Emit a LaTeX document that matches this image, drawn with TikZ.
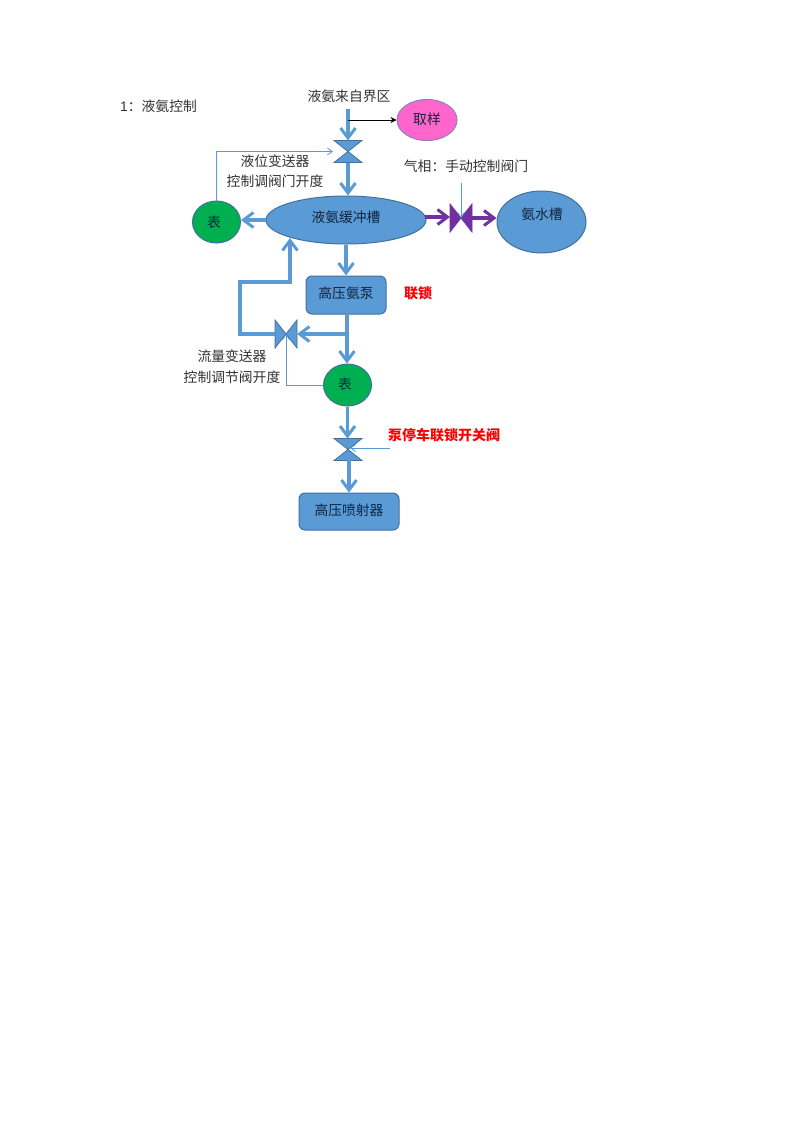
\documentclass[tikz,border=0pt]{standalone}
\usepackage{fontspec}
\setmainfont{Noto Sans CJK SC}
\usetikzlibrary{arrows.meta,shapes.geometric}
\definecolor{pipe}{HTML}{5B9BD5}
\definecolor{edgeblue}{HTML}{41719C}
\definecolor{gauge}{HTML}{00B050}
\definecolor{samplepink}{HTML}{FF66CC}
\definecolor{sampleedge}{HTML}{8C7FC0}
\definecolor{vapour}{HTML}{7030A0}
\definecolor{txt}{HTML}{333333}
\definecolor{nodetxt}{HTML}{10253F}
\tikzset{
  lbl/.style={font=\fontsize{13.8}{16}\selectfont, text=txt, inner sep=0pt},
  redlbl/.style={font=\fontsize{14}{16}\selectfont\bfseries, text=red, inner sep=0pt},
  inside/.style={font=\fontsize{13.8}{16}\selectfont, text=nodetxt, inner sep=0pt},
  vessel/.style={shape=ellipse, draw=edgeblue, fill=pipe, line width=1pt, inner sep=0pt},
  box/.style={rectangle, rounded corners=6pt, draw=edgeblue, fill=pipe, line width=1pt, inner sep=0pt},
  gaugeball/.style={shape=ellipse, draw=edgeblue, fill=gauge, line width=1pt, inner sep=0pt},
  valvespot/.style={rectangle, inner sep=0pt, outer sep=0pt},
  valvebody/.style={draw=edgeblue, fill=pipe, line width=0.8pt, line join=miter},
  pipeflow/.style={draw=pipe, line width=3.2pt, -{Straight Barb[length=10pt,width=15pt,line width=3pt]}},
  vapourflow/.style={draw=vapour, line width=3.2pt, -{Straight Barb[length=10pt,width=15pt,line width=3pt]}},
  signal/.style={draw=pipe, line width=1pt, -{Straight Barb[length=5pt,width=7pt,line width=0.8pt]}},
  sampleflow/.style={draw=black, line width=1pt, -{Stealth[length=6pt,width=6pt]}},
}
\begin{document}
\begin{tikzpicture}[x=1pt,y=-1pt]
\useasboundingbox[fill=white] (0,0) rectangle (793,1122);

% vessels
\node[vessel, draw=sampleedge, fill=samplepink, minimum width=60pt, minimum height=41pt] (sample) at (427,120) {};
\node[inside] (sampletxt) at (427,119) {取样};
\node[vessel, minimum width=160pt, minimum height=48pt] (buffer) at (346,220) {};
\node[inside] (buffertxt) at (346,217) {液氨缓冲槽};
\node[vessel, minimum width=89pt, minimum height=62pt] (water) at (541.5,222) {};
\node[inside] (watertxt) at (542,214) {氨水槽};
\node[gaugeball, minimum width=48pt, minimum height=42pt] (level) at (216.5,222) {};
\node[inside] (leveltxt) at (214,222) {表};
\node[gaugeball, minimum width=48pt, minimum height=42pt] (flow) at (347.5,385) {};
\node[inside] (flowtxt) at (345,384) {表};
\node[box, minimum width=80pt, minimum height=38pt] (pump) at (346,295) {};
\node[inside] (pumptxt) at (346,293) {高压氨泵};
\node[box, minimum width=100pt, minimum height=37pt] (injector) at (349,511.5) {};
\node[inside] (injtxt) at (349,510) {高压喷射器};

% valves
\node[valvespot, minimum width=28pt, minimum height=22pt] (v1) at (348,151.5) {};
\node[valvespot, minimum width=22pt, minimum height=28pt] (vgas) at (461,218) {};
\node[valvespot, minimum width=22pt, minimum height=28pt] (vby) at (286,334) {};
\node[valvespot, minimum width=28pt, minimum height=22pt] (v3) at (348,449.5) {};
\draw[valvebody] (v1.north west) -- (v1.north east) -- (v1.south west) -- (v1.south east) -- cycle;
\draw[valvebody] (v3.north west) -- (v3.north east) -- (v3.south west) -- (v3.south east) -- cycle;
\draw[valvebody] (vby.north west) -- (vby.south east) -- (vby.north east) -- (vby.south west) -- cycle;
\draw[valvebody, draw=vapour, fill=vapour] (vgas.north west) -- (vgas.south east) -- (vgas.north east) -- (vgas.south west) -- cycle;

% free ends
\coordinate (inlet) at (348,109);
\coordinate (samplebranch) at (348,120);
\coordinate (tee) at (347,334);
\coordinate (interlock) at (390,448);
\coordinate (handle) at (461,183);
\coordinate (ventout) at (425,217);
\coordinate (v3out) at (349,460);

% main flow
\draw[pipeflow] (inlet) -- (v1.north);
\draw[pipeflow] (v1.south) -- (buffer.north -| v1.south);
\draw[sampleflow] (samplebranch) -- (sample.west);
\draw[pipeflow] (buffer.west) -- (buffer.west -| level.east);
\draw[pipeflow] (buffer.south) -- (pump.north);
\draw[pipeflow] (pump.south -| tee) -- (flow.north -| tee);
\draw[pipeflow] (tee) -- (vby.east);
\draw[pipeflow] (vby.west) -- (240,334) -- (240,282) -- (290,282) -- (290,238);
\draw[pipeflow] (flow.south) -- (v3.north -| flow.south);
\draw[pipeflow] (v3out) -- (injector.north);

% vapour
\draw[vapourflow] (ventout) -- (vgas.west |- ventout);
\draw[vapourflow] (vgas.east) -- (vgas.east -| water.west);

% signals
\draw[signal] (level.north) -- (level.north |- v1.west) -- (333,151.5);
\draw[signal] (flow.west) -- (flow.west -| vby.center) -- (vby.center);
\draw[signal] (interlock) -- (350,448);
\draw[signal] (handle) -- (vgas.center);

% labels
\node[lbl, anchor=west] (title) at (120,106) {\fontspec{Liberation Sans}1\fontspec{Noto Sans CJK SC}\symbol{"FF1A}液氨控制};
\node[lbl] (t1) at (349,96) {液氨来自界区};
\node[lbl] (t2) at (275,161) {液位变送器};
\node[lbl] (t3) at (275,181) {控制调阀门开度};
\node[lbl] (t4) at (466,166) {气相\symbol{"FF1A}手动控制阀门};
\node[redlbl] (t5) at (418,293) {联锁};
\node[lbl] (t6) at (232,356) {流量变送器};
\node[lbl] (t7) at (232,377) {控制调节阀开度};
\node[redlbl] (t8) at (444,435) {泵停车联锁开关阀};
\end{tikzpicture}
\end{document}
